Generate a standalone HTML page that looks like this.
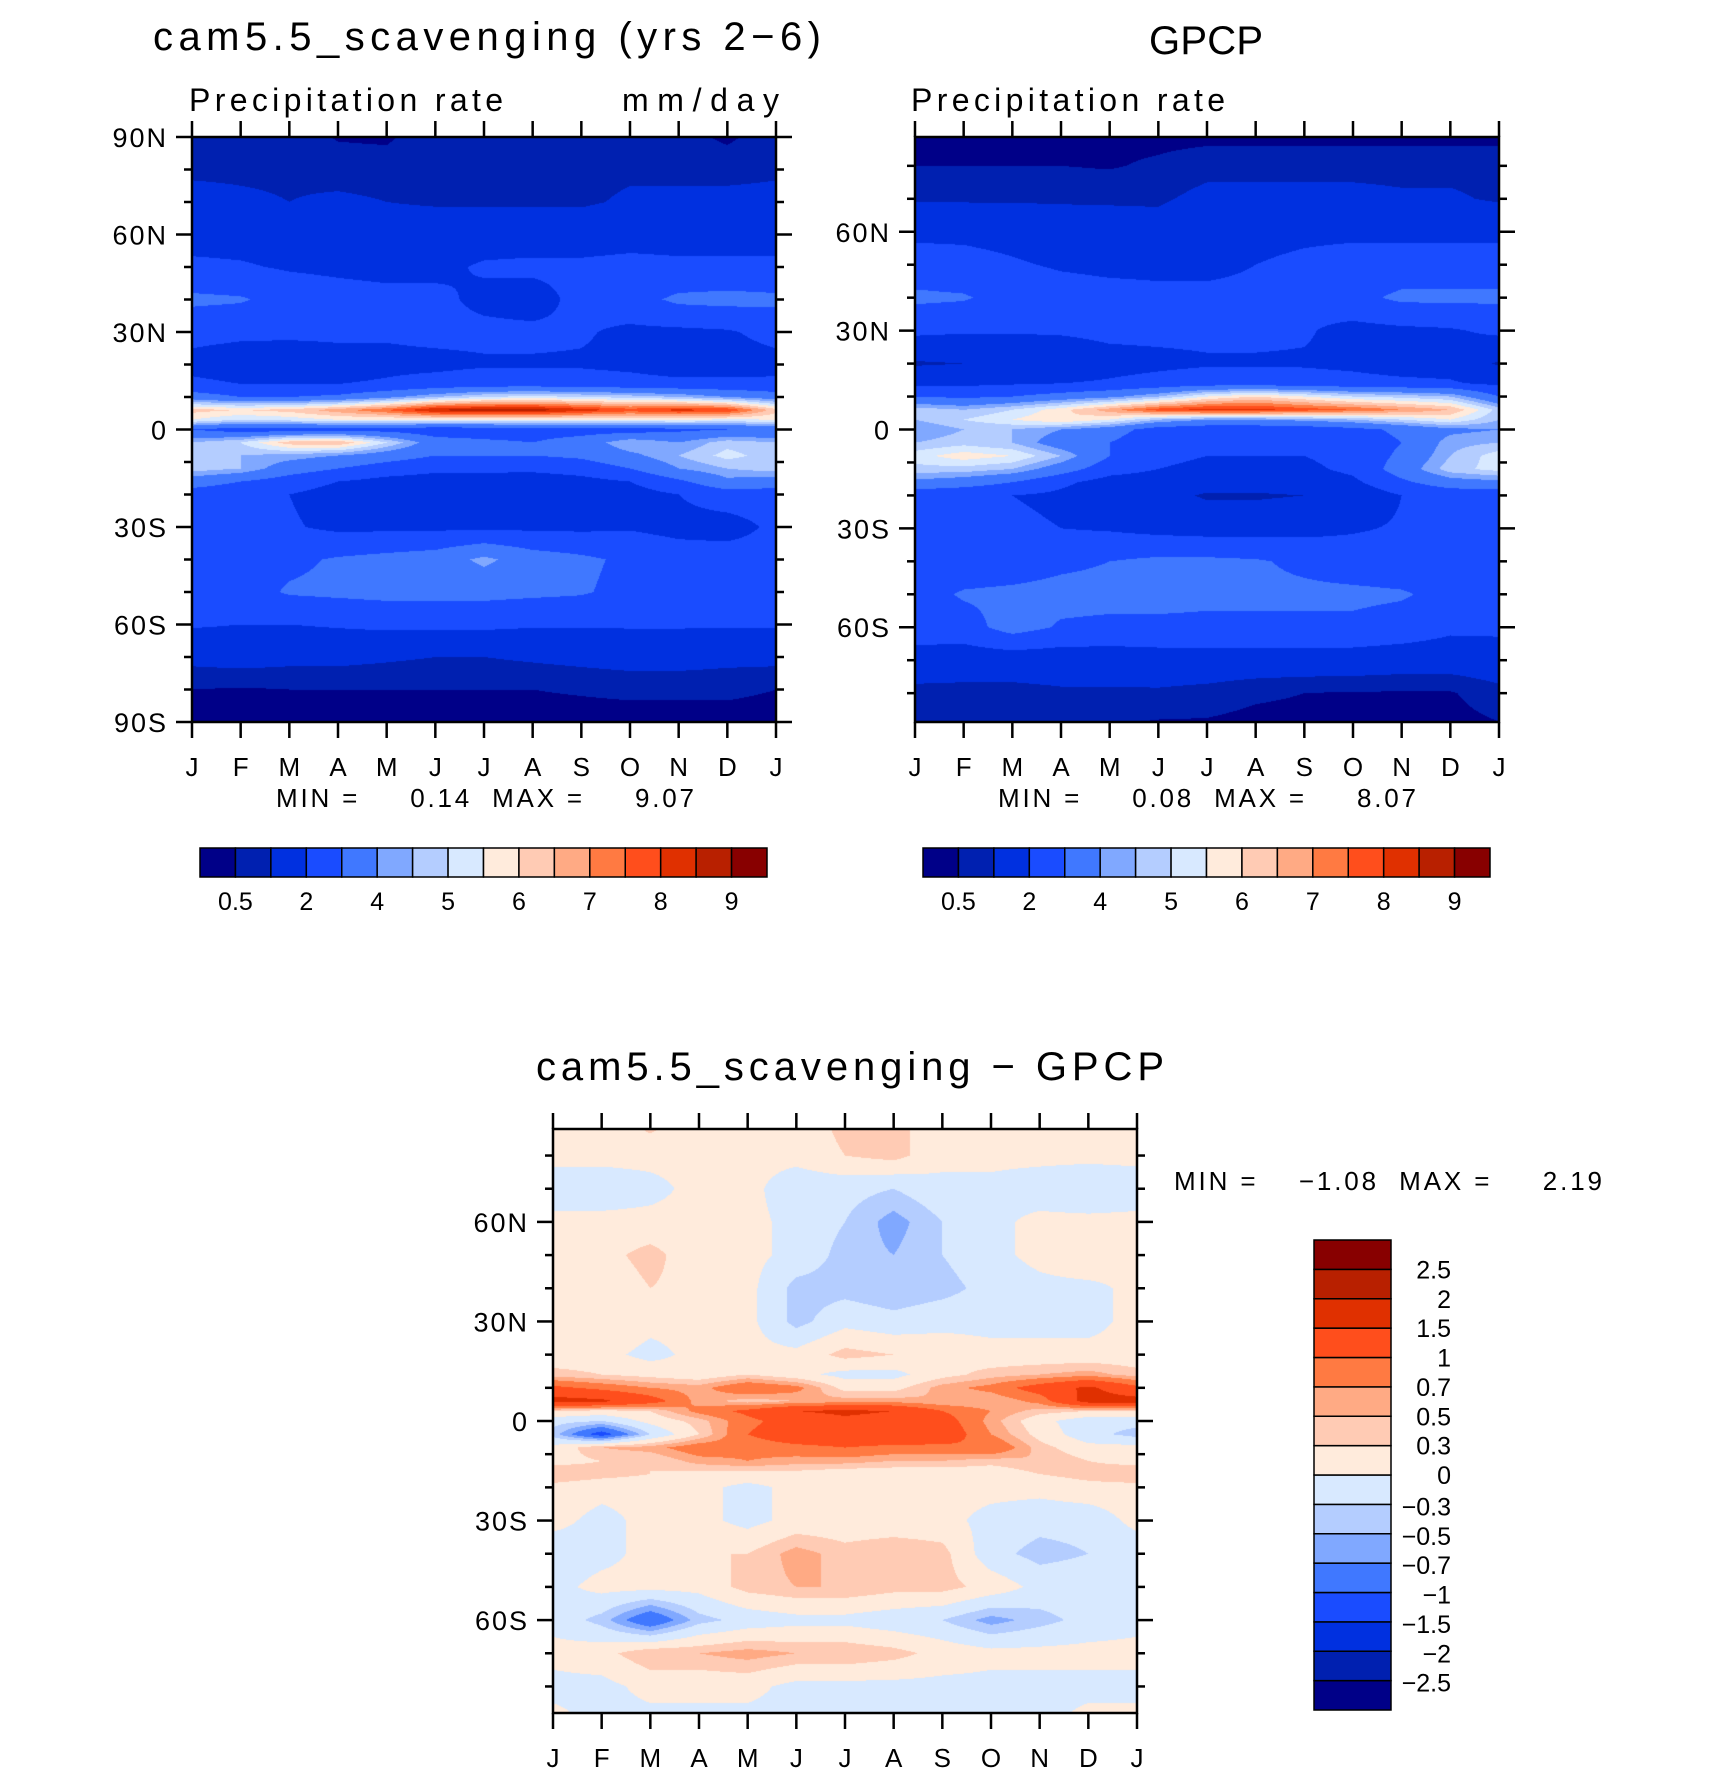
<!DOCTYPE html>
<html><head><meta charset="utf-8">
<style>
html,body{margin:0;padding:0;background:#fff;}
#wrap{position:relative;width:1710px;height:1776px;overflow:hidden;font-family:"Liberation Sans",sans-serif;}
canvas{position:absolute;}
svg{position:absolute;left:0;top:0;}
svg text{font-family:"Liberation Sans",sans-serif;fill:#000;white-space:pre;}
</style></head>
<body>
<div id="wrap">
<canvas id="c1"></canvas>
<canvas id="c2"></canvas>
<canvas id="c3"></canvas>
<svg id="ov" width="1710" height="1776"></svg>
</div>
<script>
const months = ["J","F","M","A","M","J","J","A","S","O","N","D","J"];
const lats = [90,80,70,60,50,40,30,20,14,10,6,3,0,-4,-8,-12,-16,-20,-30,-40,-50,-60,-70,-80,-90];
const colors = ["#000088","#0020b0","#0030e0","#1a4cff","#4078ff","#80a8ff","#b4cdff","#d8e9ff","#ffebdc","#ffcbb4","#ffaa84","#ff7a42","#ff4e1c","#e03000","#b82000","#880000"];
const precipLevels = [0.5,1,2,3,4,4.5,5,5.5,6,6.5,7,7.5,8,8.5,9];
const precipTickLabels = ["0.5","2","4","5","6","7","8","9"];
const diffLevels = [-2.5,-2,-1.5,-1,-0.7,-0.5,-0.3,0,0.3,0.5,0.7,1,1.5,2,2.5];
const diffTickLabels = ["-2.5","-2","-1.5","-1","-0.7","-0.5","-0.3","0","0.3","0.5","0.7","1","1.5","2","2.5"];
const modelValues = [
[0.8,0.7,0.8,0.45,0.4,0.9,0.9,0.9,0.9,0.8,0.7,0.4,0.8],
[0.9,0.9,0.9,0.8,0.8,0.9,0.9,0.8,0.8,0.9,0.8,0.8,0.9],
[1.2,1.1,1.0,1.1,1.0,0.9,0.9,0.9,0.9,1.1,1.2,1.2,1.2],
[1.6,1.6,1.5,1.5,1.5,1.6,1.6,1.5,1.5,1.6,1.6,1.6,1.6],
[2.2,2.1,1.9,1.8,1.7,1.8,2.1,2.2,2.2,2.3,2.2,2.2,2.2],
[3.2,3.1,2.6,2.4,2.3,2.2,1.8,1.6,2.3,2.6,3.2,3.3,3.2],
[2.3,2.2,2.2,2.2,2.1,2.2,2.2,2.2,2.1,1.8,1.8,1.9,2.3],
[1.7,1.5,1.4,1.6,1.8,1.8,1.9,1.9,1.9,1.8,1.6,1.6,1.7],
[2.2,2.0,2.0,2.0,2.1,2.3,2.5,2.5,2.4,2.3,2.2,2.2,2.2],
[3.5,3.0,3.0,3.2,3.8,4.5,5.0,5.2,5.0,4.8,4.5,4.0,3.5],
[6.2,6.0,6.2,6.8,7.5,8.6,8.8,8.8,8.3,7.8,8.2,8.0,6.2],
[5.5,5.0,5.2,5.5,5.5,5.5,5.5,5.5,5.5,5.5,5.5,5.4,5.5],
[3.0,2.5,2.5,2.6,2.6,2.3,2.4,2.5,2.5,2.5,2.8,3.0,3.0],
[4.5,5.0,6.3,6.5,5.0,3.5,3.2,3.0,3.5,4.5,4.0,4.8,4.5],
[4.7,4.5,4.3,4.0,3.5,3.0,3.0,3.0,3.2,3.8,4.5,5.2,4.7],
[4.8,4.5,3.5,3.0,2.5,2.2,2.2,2.2,2.4,3.0,4.0,4.5,4.8],
[3.5,3.0,2.5,2.0,1.7,1.6,1.6,1.5,1.7,2.0,2.8,3.8,3.5],
[2.5,2.3,2.0,1.6,1.5,1.5,1.4,1.0,1.3,1.6,2.0,2.5,2.5],
[2.2,2.2,2.1,1.8,1.8,1.8,1.8,1.8,1.8,1.9,1.7,1.6,2.2],
[2.4,2.6,2.8,3.1,3.3,3.5,4.2,3.5,3.2,2.8,2.5,2.5,2.4],
[2.4,2.6,3.1,3.2,3.3,3.3,3.3,3.2,3.1,2.7,2.5,2.4,2.4],
[2.1,2.0,2.0,2.1,2.2,2.2,2.2,2.1,2.1,2.1,2.1,2.1,2.1],
[1.2,1.3,1.2,1.2,1.1,1.0,1.0,1.1,1.2,1.3,1.3,1.2,1.2],
[0.5,0.45,0.5,0.5,0.5,0.5,0.5,0.5,0.55,0.6,0.6,0.6,0.5],
[0.3,0.3,0.3,0.3,0.3,0.3,0.3,0.3,0.3,0.3,0.3,0.3,0.3]];
const gpcpValues = [
[0.3,0.3,0.3,0.3,0.3,0.3,0.3,0.3,0.3,0.3,0.3,0.3,0.3],
[0.5,0.5,0.5,0.5,0.45,0.6,0.8,0.8,0.8,0.8,0.8,0.8,0.8],
[0.9,0.9,0.9,0.9,0.9,0.9,1.2,1.2,1.2,1.2,1.1,1.1,0.9],
[1.8,1.8,1.7,1.5,1.4,1.3,1.6,1.7,1.8,1.8,1.8,1.8,1.8],
[2.4,2.3,2.1,1.9,1.8,1.8,1.8,2.0,2.2,2.4,2.4,2.4,2.4],
[3.2,3.1,2.6,2.4,2.3,2.2,2.2,2.2,2.3,2.7,3.2,3.2,3.2],
[2.2,2.1,2.1,2.1,2.2,2.2,2.2,2.2,2.1,1.7,1.8,1.9,2.2],
[0.9,1.0,1.1,1.4,1.7,1.8,1.9,1.9,1.9,1.8,1.6,1.6,0.9],
[1.8,1.8,1.9,2.0,2.1,2.3,2.5,2.5,2.4,2.3,2.2,2.1,1.8],
[3.0,2.8,3.0,3.4,3.8,4.5,5.5,6.0,5.5,5.0,4.8,4.5,3.0],
[4.8,4.5,5.0,5.8,6.8,7.8,8.2,8.2,7.8,7.5,7.0,6.5,4.8],
[4.5,5.0,5.5,6.0,5.5,4.5,4.0,4.0,4.2,4.5,5.0,5.5,4.5],
[4.0,4.5,4.5,4.0,3.5,2.5,2.3,2.3,2.4,2.7,3.2,3.8,4.0],
[4.5,4.8,4.5,3.5,3.0,2.2,2.0,2.0,2.0,2.4,3.0,4.3,4.5],
[5.3,5.8,5.5,4.5,3.0,2.2,2.0,2.0,2.0,2.3,3.2,4.5,5.3],
[4.8,4.8,4.5,3.5,2.4,2.0,1.8,1.8,1.8,2.2,3.5,4.8,5.2],
[3.8,3.5,3.0,2.2,1.6,1.5,1.4,1.4,1.5,1.8,2.8,3.6,3.8],
[2.3,2.2,2.0,1.8,1.5,1.3,0.9,0.9,1.0,1.3,2.0,2.3,2.3],
[2.3,2.2,2.2,2.0,1.9,1.7,1.6,1.6,1.7,1.9,2.1,2.2,2.3],
[2.3,2.4,2.5,2.8,3.0,3.2,3.2,3.1,2.8,2.5,2.4,2.3,2.3],
[2.6,3.1,3.2,3.3,3.3,3.3,3.2,3.2,3.2,3.2,3.1,2.7,2.6],
[2.6,2.6,3.4,2.9,2.8,2.8,2.8,2.8,2.8,2.8,2.6,2.2,2.2],
[1.5,1.4,1.4,1.4,1.4,1.5,1.5,1.5,1.5,1.5,1.4,1.4,1.5],
[0.8,0.8,0.8,0.9,0.9,0.9,0.8,0.6,0.5,0.45,0.45,0.45,0.8],
[0.45,0.45,0.5,0.5,0.5,0.4,0.4,0.3,0.3,0.3,0.3,0.3,0.45]];
const diffValues = [
[0.1,0.1,0.4,0.1,0.1,0.1,0.4,0.4,0.1,0.1,0.1,0.1,0.1],
[0.1,0.1,0.1,0.1,0.1,0.1,0.3,0.4,0.1,0.1,0.1,0.1,0.1],
[-0.2,-0.2,-0.1,0.1,0.1,-0.2,-0.2,-0.3,-0.1,-0.1,-0.2,-0.3,-0.2],
[0.1,0.1,0.1,0.1,0.1,-0.1,-0.3,-0.6,-0.3,-0.1,0.1,0.1,0.1],
[0.1,0.2,0.4,0.1,0.1,-0.1,-0.4,-0.5,-0.3,-0.1,0.1,0.3,0.1],
[0.1,0.1,0.3,0.2,0.1,-0.4,-0.4,-0.5,-0.4,-0.2,-0.1,-0.1,0.1],
[0.1,0.3,0.1,0.1,0.1,-0.4,-0.1,-0.2,-0.1,-0.1,-0.1,-0.1,0.1],
[0.1,0.1,-0.1,0.1,0.1,0.1,0.4,0.3,0.2,0.1,0.1,0.1,0.1],
[0.4,0.3,0.2,0.1,0.3,0.1,-0.1,-0.1,0.2,0.4,0.5,0.6,0.4],
[1.1,0.9,0.7,0.6,1.0,0.8,0.2,0.2,0.6,0.8,1.2,1.6,1.1],
[1.7,1.6,1.2,0.6,0.4,0.5,0.6,0.6,0.5,0.5,0.8,1.7,1.7],
[0.3,0.2,0.3,0.8,1.1,1.5,1.6,1.5,1.0,0.7,0.4,0.3,0.3],
[-0.2,-0.3,0.1,0.4,0.9,1.2,1.4,1.3,1.2,0.6,0.1,-0.2,-0.2],
[-0.4,-1.2,-0.3,0.3,1.0,1.3,1.3,1.4,1.3,0.7,0.2,-0.2,-0.4],
[0.1,0.5,0.6,0.9,0.8,0.9,1.0,0.9,0.9,1.0,0.4,0.1,0.1],
[0.2,0.3,0.3,0.6,0.7,0.6,0.6,0.5,0.5,0.4,0.5,0.3,0.2],
[0.5,0.4,0.3,0.2,0.2,0.2,0.1,0.1,0.1,0.1,0.3,0.4,0.5],
[0.2,0.1,0.1,0.1,-0.1,0.1,0.1,0.1,0.1,0.1,0.1,0.2,0.2],
[0.1,-0.1,0.1,0.1,-0.1,0.1,0.1,0.1,0.1,-0.1,-0.2,-0.2,0.1],
[-0.2,-0.1,0.1,0.3,0.3,0.6,0.4,0.5,0.4,-0.2,-0.4,-0.3,-0.2],
[-0.1,0.1,0.1,0.1,0.4,0.5,0.5,0.4,0.4,0.2,-0.1,-0.1,-0.1],
[-0.1,-0.4,-1.0,-0.4,-0.2,-0.1,-0.1,-0.2,-0.3,-0.6,-0.4,-0.2,-0.1],
[0.1,0.2,0.5,0.5,0.6,0.5,0.5,0.4,0.2,0.1,0.1,0.1,0.1],
[-0.1,-0.1,0.1,0.1,0.1,-0.1,-0.1,-0.1,-0.1,-0.1,-0.1,-0.1,-0.1],
[0.1,-0.1,-0.1,-0.1,-0.1,-0.1,-0.1,-0.1,-0.1,-0.1,-0.1,0.1,0.1]];

const NS="http://www.w3.org/2000/svg";
const ov=document.getElementById('ov');
function mk(tag,attrs,parent){const e=document.createElementNS(NS,tag);for(const k in attrs)e.setAttribute(k,attrs[k]);(parent||ov).appendChild(e);return e;}
function txt(s,x,y,size,anchor,name,len){const t=mk('text',{x:x,y:y,'font-size':size,'text-anchor':anchor||'middle'});t.textContent=s;
if(len){t.setAttribute('textLength',len);t.setAttribute('lengthAdjust','spacing');}


return t;}

function sample(vals,mf,lat){
  let j=0; while(j<lats.length-2 && lat<lats[j+1]) j++;
  let ty=(lats[j]-lat)/(lats[j]-lats[j+1]); ty=Math.max(0,Math.min(1,ty));
  let i=Math.min(11,Math.floor(mf)); let tx=mf-i;
  const a=vals[j][i],b=vals[j][i+1],c=vals[j+1][i],d=vals[j+1][i+1];
  return (a*(1-tx)+b*tx)*(1-ty)+(c*(1-tx)+d*tx)*ty;
}
function levelIdx(v,levels){let k=0;while(k<levels.length&&v>=levels[k])k++;return k;}
function hexRGB(h){return [parseInt(h.substr(1,2),16),parseInt(h.substr(3,2),16),parseInt(h.substr(5,2),16)];}
const rgb=colors.map(hexRGB);

function panel(cfg){
  const {id,x0,y0,w,h,latTop,vals,levels,latLabels,name}=cfg;
  const xS=i=>x0+i/12*w;
  const yS=l=>y0+(latTop-l)/(2*latTop)*h;
  const cv=document.getElementById(id);
  cv.width=w;cv.height=h;cv.style.left=x0+'px';cv.style.top=y0+'px';
  const ctx=cv.getContext('2d');const img=ctx.createImageData(w,h);
  for(let py=0;py<h;py++){const lat=latTop-(py+0.5)/h*2*latTop;
    for(let px=0;px<w;px++){const mf=(px+0.5)/w*12;
      const c=rgb[levelIdx(sample(vals,mf,lat),levels)];const o=(py*w+px)*4;
      img.data[o]=c[0];img.data[o+1]=c[1];img.data[o+2]=c[2];img.data[o+3]=255;}}
  ctx.putImageData(img,0,0);
  const g=mk('g',{stroke:'#000','stroke-width':2.5,fill:'none'});
  
  
  mk('rect',{x:x0,y:y0,width:w,height:h},g);
  for(let i=0;i<13;i++){const x=xS(i);
    mk('line',{x1:x,y1:y0+h,x2:x,y2:y0+h+16},g);mk('line',{x1:x,y1:y0,x2:x,y2:y0-16},g);
    txt(months[i],x,y0+h+54,26,'middle',name+'-month-label');}
  for(let l=-80;l<=80;l+=10){if(Math.abs(l)>latTop)continue;const y=yS(l);const maj=(l%30===0);
    const L=maj?16:8; mk('line',{x1:x0-L,y1:y,x2:x0,y2:y},g);mk('line',{x1:x0+w,y1:y,x2:x0+w+L,y2:y},g);}
  if(latTop>=90){[90,-90].forEach(l=>{const y=yS(l);mk('line',{x1:x0-16,y1:y,x2:x0,y2:y},g);mk('line',{x1:x0+w,y1:y,x2:x0+w+16,y2:y},g);});}
  latLabels.forEach(s=>{const v=s==='0'?0:parseInt(s)*(s.endsWith('S')?-1:1);
    const t=txt(s,x0-24,yS(v)+10,27,'end',name+'-lat-label');t.setAttribute('letter-spacing','2');});
}
function hbar(x0,y0,w,h,labels,name){
  const bw=w/16;
  for(let k=0;k<16;k++){const r=mk('rect',{x:x0+k*bw,y:y0,width:bw,height:h,fill:colors[k],stroke:'#000','stroke-width':1.5});
    
    }
  labels.forEach((s,i)=>txt(s,x0+(2*i+1)*bw,y0+h+33,25,'middle',name+'-label'));
}
function vbar(x0,y0,w,h,labels,name){
  const bh=h/16;
  for(let k=0;k<16;k++){const r=mk('rect',{x:x0,y:y0+(15-k)*bh,width:w,height:bh,fill:colors[k],stroke:'#000','stroke-width':1.5});
    
    }
  labels.forEach((s,i)=>txt(s.replace('-','\u2212'),x0+w+60,y0+(15-i-1)*bh+bh+9+(i<7?2:0),25,'end',name+'-label'));
}
panel({id:'c1',x0:192,y0:137,w:584,h:585,latTop:90,vals:modelValues,levels:precipLevels,latLabels:['90N','60N','30N','0','30S','60S','90S'],name:'model'});
panel({id:'c2',x0:915,y0:137,w:584,h:585,latTop:88.75,vals:gpcpValues,levels:precipLevels,latLabels:['60N','30N','0','30S','60S'],name:'gpcp'});
panel({id:'c3',x0:553,y0:1129,w:584,h:584,latTop:88,vals:diffValues,levels:diffLevels,latLabels:['60N','30N','0','30S','60S'],name:'diff'});
hbar(200,848,567,29,precipTickLabels,'model-colorbar');
hbar(923,848,567,29,precipTickLabels,'gpcp-colorbar');
vbar(1314,1240,77,470,diffTickLabels,'diff-colorbar');
txt('cam5.5_scavenging (yrs 2\u22126)',153,50,40,'start','model-title',668);
txt('Precipitation rate',189,111,32,'start','model-subtitle',314);
txt('mm/day',779,111,32,'end','model-units',157);
txt('GPCP',1149,54,40,'start','gpcp-title',114);
txt('Precipitation rate',911,111,32,'start','gpcp-subtitle',314);
txt('MIN =     0.14  MAX =     9.07',276,807,26,'start','model-min-max',418);
txt('MIN =     0.08  MAX =     8.07',998,807,26,'start','gpcp-min-max',418);
txt('cam5.5_scavenging \u2212 GPCP',536,1080,40,'start','diff-title',628);
txt('MIN =    \u22121.08  MAX =     2.19',1174,1190,26,'start','diff-min-max',428);
</script>
</body></html>
